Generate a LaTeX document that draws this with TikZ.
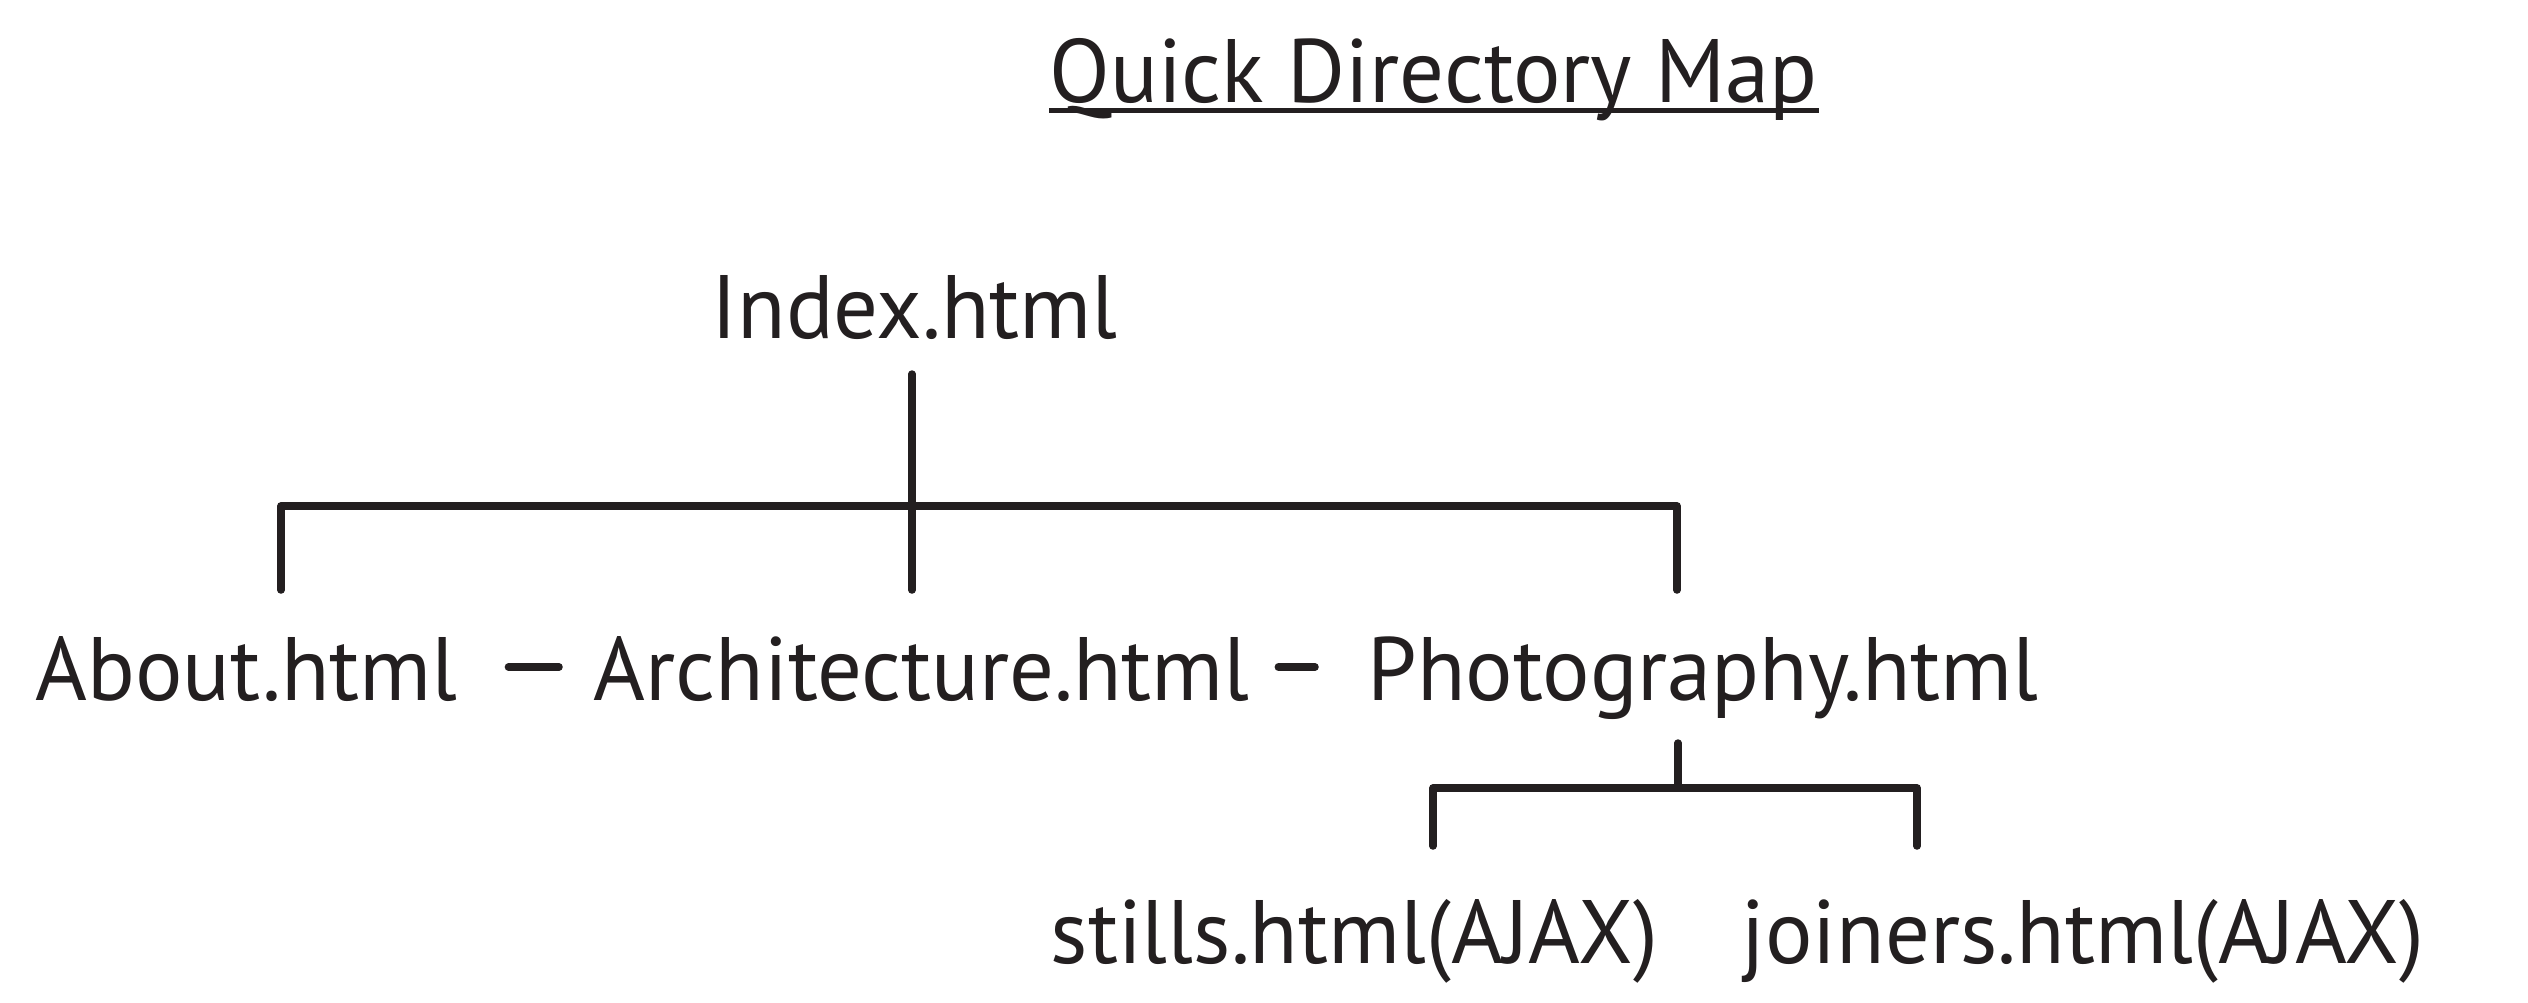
\documentclass[tikz,border=0pt]{standalone}
\usepackage{fontspec}
\setmainfont[FakeStretch=0.985]{PT Sans}
\definecolor{ink}{HTML}{231F20}
\begin{document}
\begin{tikzpicture}[x=0.01cm, y=-0.01cm,
		link/.style={ink, line width=0.075cm, line cap=round, line join=round},
		file/.style={anchor=base west, inner sep=0, text=ink, font=\fontsize{25.6}{30}\selectfont}]
	\useasboundingbox (0,0) rectangle (2528,1002);
	% title
	\node[file] (title) at (1049,102) {Quick Directory Map};
	\draw[ink, line width=0.05cm] ([yshift=-0.08cm]title.base west) -- ([yshift=-0.08cm]title.base east);
	% pages
	\node[file] (index) at (711,338) {Index.html};
	\node[file] (about) at (35,700) {About.html};
	\node[file] (arch) at (593,700) {Architecture.html};
	\node[file] (photo) at (1367,700) {Photography.html};
	\node[file] (stills) at (1050,963) {stills.html(AJAX)};
	\node[file] (joiners) at (1741,963) {joiners.html(AJAX)};
	% top level tree
	\coordinate (i0) at (912,374);
	\coordinate (i1) at (912,590);
	\coordinate (bl) at (281,506);
	\coordinate (br) at (1677,506);
	\draw[link] (i0) -- (i1);
	\draw[link] (bl |- i1) -- (bl) -- (br) -- (br |- i1);
	\draw[link] ([shift={(50,-33)}]about.base east) -- ([shift={(-34,-33)}]arch.base west);
	\draw[link] ([shift={(28,-33)}]arch.base east) -- ([shift={(-52,-33)}]photo.base west);
	% photography tree
	\coordinate (p0) at (1678,743);
	\coordinate (p1) at (1678,788);
	\coordinate (sl) at (1433,788);
	\coordinate (sr) at (1917,788);
	\draw[link] (p0) -- (p1);
	\draw[link] (sl) ++(0,58) -- (sl) -- (sr) -- ++(0,58);
\end{tikzpicture}
\end{document}
